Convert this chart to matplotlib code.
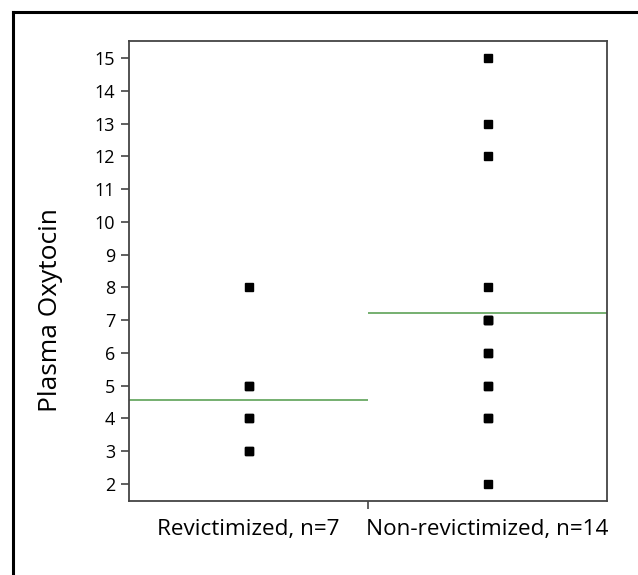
import matplotlib.pyplot as plt
import numpy as np
from matplotlib.lines import Line2D

plt.rcParams["font.family"] = ["Open Sans", "DejaVu Sans"]

groups = ["Revictimized, n=7", "Non-revictimized, n=14"]
revictimized = [8, 5, 5, 4, 4, 3, 3]
non_revictimized = [15, 13, 12, 8, 7, 7, 7, 6, 6, 5, 5, 4, 4, 2]
yticks = list(range(2, 16))

fig = plt.figure(figsize=(6.38, 5.75), dpi=100)
ax = fig.add_axes([129 / 638, 1 - 501 / 575, 478 / 638, 460 / 575])

for i, vals in enumerate([revictimized, non_revictimized]):
    ax.plot([i] * len(vals), vals, "s", color="black", markersize=5.8, linestyle="none")
    ax.hlines(np.mean(vals), i - 0.5, i + 0.5, color="#6aa964", linewidth=1.3, zorder=1)

ax.set_xlim(-0.5, 1.5)
ax.set_ylim(1.48, 15.52)
ax.set_yticks(yticks)
ax.set_yticklabels([str(t) for t in yticks], fontsize=13)
ax.set_xticks([0.5])
ax.set_xticklabels([""])
ax.set_xticks([0, 1], minor=True)
ax.set_xticklabels(groups, minor=True, fontsize=16.2)
ax.tick_params(axis="x", which="minor", length=0, pad=13)
ax.tick_params(axis="x", which="major", length=6, width=1.2, color="#444444")
ax.tick_params(axis="y", length=6, width=1.2, color="#444444", pad=4)
for s in ax.spines.values():
    s.set_color("#444444")
    s.set_linewidth(1.3)
ax.set_ylabel("Plasma Oxytocin", fontsize=19)
ax.yaxis.set_label_coords(-0.138, 0.415)

# outer frame (left and top edges only visible)
fig.add_artist(Line2D([13 / 638, 13 / 638], [0, 1 - 12 / 575], color="black", linewidth=2.2))
fig.add_artist(Line2D([13 / 638, 1], [1 - 12 / 575, 1 - 12 / 575], color="black", linewidth=2.2))

fig.savefig("out.png", dpi=100)
